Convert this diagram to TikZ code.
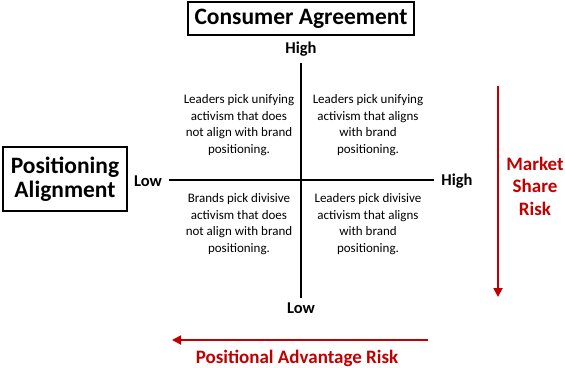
\documentclass[tikz,border=0pt]{standalone}
\usepackage{fontspec}
\setmainfont{Carlito}
\usetikzlibrary{arrows.meta}
\definecolor{riskred}{RGB}{192,0,0}

\begin{document}
\begin{tikzpicture}[x=1pt,y=-1pt,
  quadtext/.style={align=center,inner sep=0pt,
    font=\fontsize{13}{16.5}\selectfont},
  axislabel/.style={inner sep=0pt,font=\fontsize{16.5}{18}\selectfont\bfseries},
  titlebox/.style={draw,line width=1.6pt,inner sep=0pt,align=center,
    font=\fontsize{23.5}{23.5}\selectfont\bfseries},
  risklabel/.style={inner sep=0pt,align=center,text=riskred,
    font=\fontsize{19}{22.5}\selectfont\bfseries},
  riskarrow/.style={draw=riskred,line width=1.8pt,
    -{Triangle[length=9pt,width=9pt]}}
]
\useasboundingbox (0,0) rectangle (565,367);

% TITULOS
\node[titlebox,minimum width=226pt,minimum height=33pt]
(consumer) at (301,18.5) {Consumer Agreement};

\node[titlebox,minimum width=124pt,minimum height=64pt]
(positioning) at (65,179) {Positioning\\Alignment};

% EIXO VERTICAL
\node[axislabel] (vhigh) at (301,49) {High};
\node[axislabel] (vlow) at (301,308) {Low};
\draw[line width=2pt]
(301,63)
--
(301,298);

% EIXO HORIZONTAL
\node[axislabel] (hlow) at (148,181) {Low};
\node[axislabel] (hhigh) at (457,181) {High};
\draw[line width=2pt]
(hlow.east) ++(7pt,0) coordinate (hstart)
(hhigh.west) ++(-7pt,0) coordinate (hend)
(hstart |- 0,180) -- (hend |- 0,180);

% QUADRANTES
\node[quadtext] (topleft) at (239,125)
{Leaders pick unifying\\activism that does\\not align with brand\\positioning.};

\node[quadtext] (topright) at (368,125)
{Leaders pick unifying\\activism that aligns\\with brand\\positioning.};

\node[quadtext] (bottomleft) at (239,224)
{Brands pick divisive\\activism that does\\not align with brand\\positioning.};

\node[quadtext] (bottomright) at (368,224)
{Leaders pick divisive\\activism that aligns\\with brand\\positioning.};

% RISCOS
\node[risklabel] (market) at (535,186) {Market\\Share\\Risk};
\coordinate (mtop) at (498,86);
\coordinate (mbottom) at (498,297);
\draw[riskarrow] (mtop) -- (mbottom);

\node[risklabel] (advantage) at (297,358) {Positional Advantage Risk};
\coordinate (aright) at (428,340);
\coordinate (aleft) at (172,340);
\draw[riskarrow] (aright) -- (aleft);

\end{tikzpicture}
\end{document}
